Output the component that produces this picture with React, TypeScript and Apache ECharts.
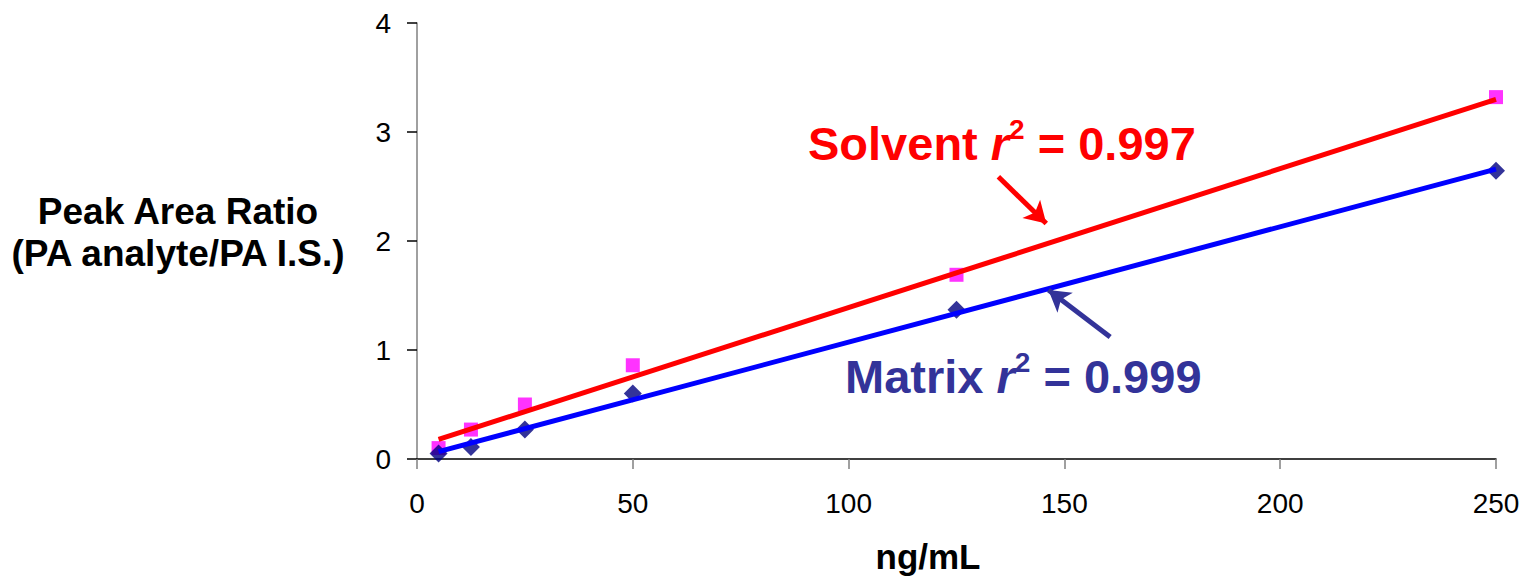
import React, { useEffect, useRef } from "react";
import * as echarts from "echarts";

// Concentrations (ng/mL)
const concentrations = [5, 12.5, 25, 50, 125, 250];
// Peak area ratios
const solventValues = [0.1, 0.27, 0.5, 0.86, 1.69, 3.32];
const matrixValues = [0.05, 0.11, 0.27, 0.6, 1.37, 2.645];
// Fitted trend lines (end points)
const solventFitX = [5, 250];
const solventFitY = [0.18, 3.3];
const matrixFitX = [5, 250];
const matrixFitY = [0.067, 2.66];
// Annotation arrows in data coordinates [x, y] start -> tip
const solventArrow = [[134.7, 2.59], [145.8, 2.16]];
const matrixArrow = [[160.6, 1.12], [146.3, 1.55]];
const xTicks = [0, 50, 100, 150, 200, 250];
const yTicks = [0, 1, 2, 3, 4];

const FONT = "'Liberation Sans', Arial, sans-serif";

export default function App() {
  const ref = useRef<HTMLDivElement>(null);
  useEffect(() => {
    document.body.style.margin = "0";
    const chart = echarts.init(ref.current!, null, { renderer: "svg" });
    const zip = (xs: number[], ys: number[]) => xs.map((x, i) => [x, ys[i]]);
    const arrowLine = (pts: number[][], color: string) => ({
      silent: true,
      symbol: ["none", "arrow"],
      symbolSize: [19, 21],
      label: { show: false },
      lineStyle: { color, width: 5, type: "solid" },
      data: [[{ coord: pts[0] }, { coord: pts[1] }]],
    });
    const annot = (label: string, value: string, color: string) => ({
      text: `{m|${label} }{i|r}{s|2}{m| = ${value}}`,
      fill: color,
      align: "left",
      verticalAlign: "middle",
      rich: {
        m: { fontSize: 47, fontWeight: "bold", fontFamily: FONT, color, lineHeight: 56 },
        i: { fontSize: 47, fontWeight: "bold", fontStyle: "italic", fontFamily: FONT, color, lineHeight: 56 },
        s: { fontSize: 28, fontWeight: "bold", fontStyle: "normal", fontFamily: FONT, color, lineHeight: 50, verticalAlign: "top" },
      },
    });
    chart.setOption({
      animation: false,
      textStyle: { fontFamily: FONT },
      grid: { left: 417, right: 31, top: 23, bottom: 118 },
      xAxis: {
        type: "value",
        min: xTicks[0],
        max: xTicks[xTicks.length - 1],
        interval: 50,
        axisLine: { lineStyle: { color: "#000", width: 1.5 } },
        axisTick: { show: true, length: 10, lineStyle: { color: "#808080", width: 1.5 } },
        axisLabel: { color: "#000", fontSize: 28, margin: 30, fontFamily: FONT },
        splitLine: { show: false },
      },
      yAxis: {
        type: "value",
        min: yTicks[0],
        max: yTicks[yTicks.length - 1],
        interval: 1,
        axisLine: { show: true, lineStyle: { color: "#808080", width: 1.5 } },
        axisTick: { show: true, length: 10, lineStyle: { color: "#000", width: 1.5 } },
        axisLabel: { color: "#000", fontSize: 28, margin: 26, fontFamily: FONT },
        splitLine: { show: false },
      },
      series: [
        {
          name: "Solvent",
          type: "scatter",
          symbol: "rect",
          symbolSize: 14,
          itemStyle: { color: "#FF00FF" },
          data: zip(concentrations, solventValues),
          z: 2,
        },
        {
          name: "Matrix",
          type: "scatter",
          symbol: "diamond",
          symbolSize: 18,
          itemStyle: { color: "#000080" },
          data: zip(concentrations, matrixValues),
          z: 2,
        },
        {
          name: "Solvent fit",
          type: "line",
          showSymbol: false,
          symbol: "none",
          lineStyle: { color: "#FF0000", width: 5 },
          data: zip(solventFitX, solventFitY),
          z: 3,
          markLine: arrowLine(solventArrow, "#FF0000"),
        },
        {
          name: "Matrix fit",
          type: "line",
          showSymbol: false,
          symbol: "none",
          lineStyle: { color: "#0000FF", width: 5 },
          data: zip(matrixFitX, matrixFitY),
          z: 3,
          markLine: arrowLine(matrixArrow, "#333399"),
        },
      ],
      graphic: [
        {
          type: "text",
          x: 178,
          y: 232,
          style: {
            text: "Peak Area Ratio\n(PA analyte/PA I.S.)",
            font: `bold 37px ${FONT}`,
            fill: "#000",
            align: "center",
            verticalAlign: "middle",
            lineHeight: 42,
          },
        },
        {
          type: "text",
          x: 928,
          y: 556,
          style: {
            text: "ng/mL",
            font: `bold 35px ${FONT}`,
            fill: "#000",
            align: "center",
            verticalAlign: "middle",
          },
        },
        { type: "text", x: 808, y: 143, style: annot("Solvent", "0.997", "#FF0000") },
        { type: "text", x: 845, y: 376, style: annot("Matrix", "0.999", "#333399") },
      ],
    });
    return () => chart.dispose();
  }, []);
  return <div ref={ref} style={{ width: 1527, height: 577 }} />;
}
